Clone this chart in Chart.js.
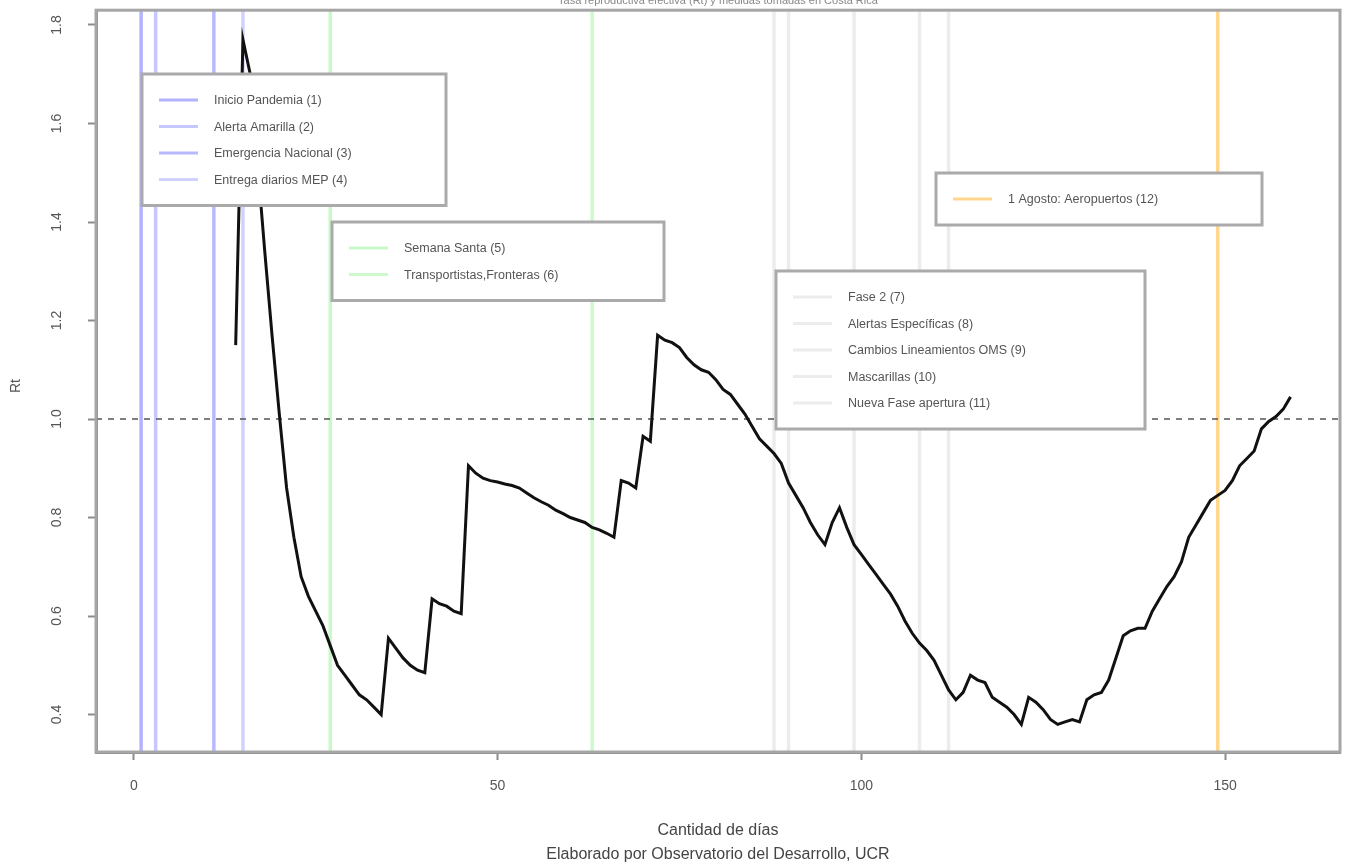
<!DOCTYPE html>
<html>
<head>
<meta charset="utf-8">
<script src="https://cdn.jsdelivr.net/npm/chart.js@4.4.1/dist/chart.umd.min.js"></script>
<style>
  body { margin: 0; background: #fff; }
  #wrap { width: 1348px; height: 868px; }
</style>
</head>
<body>
<div id="wrap"><canvas id="grafico" width="1348" height="868"></canvas></div>
<script>
// Rt diario, desde el dia 14 hasta el dia 159
const primerDia = 14;
const valoresRt = [
  1.15, 1.77, 1.70, 1.52, 1.34, 1.17, 1.01, 0.86, 0.76, 0.68,
  0.64, 0.61, 0.58, 0.54, 0.50, 0.48, 0.46, 0.44, 0.43, 0.415,
  0.40, 0.555, 0.535, 0.515, 0.50, 0.49, 0.485, 0.635, 0.625, 0.62,
  0.61, 0.605, 0.905, 0.89, 0.88, 0.875, 0.872, 0.868, 0.865, 0.86,
  0.85, 0.84, 0.832, 0.825, 0.815, 0.808, 0.80, 0.795, 0.79, 0.78,
  0.775, 0.768, 0.76, 0.875, 0.87, 0.86, 0.965, 0.955, 1.17, 1.16,
  1.155, 1.145, 1.125, 1.11, 1.10, 1.095, 1.08, 1.06, 1.05, 1.03,
  1.01, 0.985, 0.96, 0.945, 0.93, 0.91, 0.87, 0.845, 0.82, 0.79,
  0.765, 0.745, 0.79, 0.82, 0.78, 0.745, 0.725, 0.705, 0.685, 0.665,
  0.645, 0.62, 0.59, 0.565, 0.545, 0.53, 0.51, 0.48, 0.45, 0.43,
  0.445, 0.48, 0.47, 0.465, 0.435, 0.425, 0.415, 0.40, 0.38, 0.435,
  0.425, 0.41, 0.39, 0.38, 0.385, 0.39, 0.385, 0.43, 0.44, 0.445,
  0.47, 0.515, 0.56, 0.57, 0.575, 0.575, 0.61, 0.635, 0.66, 0.68,
  0.71, 0.76, 0.785, 0.81, 0.835, 0.845, 0.855, 0.875, 0.905, 0.92,
  0.935, 0.98, 0.995, 1.005, 1.02, 1.045
];

// eventos (lineas verticales)
const diasEventos = [1, 3, 11, 15, 27, 63, 88, 90, 99, 108, 112, 149];
const nombresEventos = [
  'Inicio Pandemia (1)', 'Alerta Amarilla (2)', 'Emergencia Nacional (3)', 'Entrega diarios MEP (4)',
  'Semana Santa (5)', 'Transportistas,Fronteras (6)',
  'Fase 2 (7)', 'Alertas Específicas (8)', 'Cambios Lineamientos OMS (9)', 'Mascarillas (10)', 'Nueva Fase apertura (11)',
  '1 Agosto: Aeropuertos (12)'
];
const coloresEventos = [
  'rgba(0,0,255,0.3)', 'rgba(0,0,255,0.22)', 'rgba(0,0,255,0.28)', 'rgba(0,0,255,0.18)',
  'rgba(0,230,0,0.22)', 'rgba(0,230,0,0.20)',
  'rgba(120,120,120,0.14)', 'rgba(120,120,120,0.14)', 'rgba(120,120,120,0.14)', 'rgba(120,120,120,0.14)', 'rgba(120,120,120,0.14)',
  'rgba(255,165,0,0.45)'
];

const ticksX = [0, 50, 100, 150];
const ticksY = [0.4, 0.6, 0.8, 1.0, 1.2, 1.4, 1.6, 1.8];
const limX = [-5.2, 165.8];
const limY = [0.324, 1.83];

// cajas de leyenda: esquina superior izquierda en coordenadas de datos
const leyendas = [
  { desde: 0, hasta: 4, x: 1.1, y: 1.70, ancho: 304 },
  { desde: 4, hasta: 6, x: 27.2, y: 1.40, ancho: 332 },
  { desde: 6, hasta: 11, x: 88.3, y: 1.30, ancho: 369 },
  { desde: 11, hasta: 12, x: 110.3, y: 1.50, ancho: 326 }
];

const fuente = '"Liberation Sans", Arial, sans-serif';
const puntosRt = valoresRt.map((v, i) => ({ x: primerDia + i, y: v }));

const datasets = [{
  data: puntosRt,
  borderColor: '#111',
  borderWidth: 3,
  pointRadius: 0,
  tension: 0,
  order: 0
}, {
  data: [{ x: limX[0], y: 1 }, { x: limX[1], y: 1 }],
  borderColor: '#555',
  borderWidth: 1.5,
  borderDash: [6, 6],
  pointRadius: 0,
  order: 1
}];

diasEventos.forEach((d, i) => {
  datasets.push({
    data: [{ x: d, y: limY[0] }, { x: d, y: limY[1] }],
    borderColor: coloresEventos[i],
    borderWidth: 3.5,
    pointRadius: 0,
    order: 2
  });
});

const textos = {
  id: 'textos',
  afterDatasetsDraw(chart) {
    const ctx = chart.ctx;
    const a = chart.chartArea;
    const sx = chart.scales.x, sy = chart.scales.y;

    // leyendas
    ctx.save();
    leyendas.forEach(l => {
      const n = l.hasta - l.desde;
      const x0 = Math.round(sx.getPixelForValue(l.x));
      const y0 = Math.round(sy.getPixelForValue(l.y));
      const alto = 26.5 * (n + 1) - 1;
      ctx.fillStyle = '#fff';
      ctx.fillRect(x0, y0, l.ancho, alto);
      ctx.strokeStyle = '#aaa';
      ctx.lineWidth = 3;
      ctx.strokeRect(x0, y0, l.ancho, alto);
      for (let k = 0; k < n; k++) {
        const idx = l.desde + k;
        const yy = y0 + 26 + k * 26.5;
        ctx.strokeStyle = coloresEventos[idx];
        ctx.lineWidth = 3;
        ctx.beginPath();
        ctx.moveTo(x0 + 17, yy);
        ctx.lineTo(x0 + 56, yy);
        ctx.stroke();
        ctx.fillStyle = '#555';
        ctx.font = '12.5px ' + fuente;
        ctx.textAlign = 'left';
        ctx.textBaseline = 'middle';
        ctx.fillText(nombresEventos[idx], x0 + 72, yy + 1);
      }
    });

    // marco
    ctx.strokeStyle = '#a6a6a6';
    ctx.lineWidth = 3;
    ctx.strokeRect(a.left, a.top, a.right - a.left, a.bottom - a.top);

    // etiquetas eje y (rotadas)
    ctx.fillStyle = '#555';
    ctx.font = '14px ' + fuente;
    ctx.textAlign = 'center';
    ctx.textBaseline = 'middle';
    ticksY.forEach(v => {
      const py = sy.getPixelForValue(v);
      ctx.save();
      ctx.translate(57, py);
      ctx.rotate(-Math.PI / 2);
      ctx.fillText(v.toFixed(1), 0, 0);
      ctx.restore();
    });

    ctx.save();
    ctx.translate(16, (a.top + a.bottom) / 2 + 5);
    ctx.rotate(-Math.PI / 2);
    ctx.fillText('Rt', 0, 0);
    ctx.restore();

    // titulos
    ctx.fillStyle = '#444';
    ctx.font = '16px ' + fuente;
    ctx.fillText('Cantidad de días', (a.left + a.right) / 2, 831);
    ctx.fillText('Elaborado por Observatorio del Desarrollo, UCR', (a.left + a.right) / 2, 855);

    ctx.fillStyle = '#888';
    ctx.font = '11px ' + fuente;
    ctx.fillText('Tasa reproductiva efectiva (Rt) y medidas tomadas en Costa Rica', 718, 1);
    ctx.restore();
  }
};

new Chart(document.getElementById('grafico'), {
  type: 'line',
  data: { datasets: datasets },
  plugins: [textos],
  options: {
    responsive: false,
    animation: false,
    devicePixelRatio: 1,
    layout: { padding: { top: 8, right: 8, left: 0, bottom: 0 } },
    plugins: { legend: { display: false }, tooltip: { enabled: false } },
    scales: {
      x: {
        type: 'linear',
        min: limX[0],
        max: limX[1],
        afterBuildTicks: s => { s.ticks = ticksX.map(v => ({ value: v })); },
        afterFit: s => { s.height = 116; },
        grid: { drawOnChartArea: false, drawTicks: true, tickLength: 8, color: '#8c8c8c', tickWidth: 2 },
        border: { display: true, color: '#8c8c8c', width: 3 },
        ticks: { color: '#555', font: { size: 14, family: fuente }, padding: 18, maxRotation: 0 }
      },
      y: {
        type: 'linear',
        min: limY[0],
        max: limY[1],
        afterBuildTicks: s => { s.ticks = ticksY.map(v => ({ value: v })); },
        afterFit: s => { s.width = 96; },
        grid: { drawOnChartArea: false, drawTicks: true, tickLength: 8, color: '#8c8c8c', tickWidth: 2 },
        border: { display: true, color: '#8c8c8c', width: 3 },
        ticks: { color: 'rgba(0,0,0,0)' }
      }
    }
  }
});
</script>
</body>
</html>
